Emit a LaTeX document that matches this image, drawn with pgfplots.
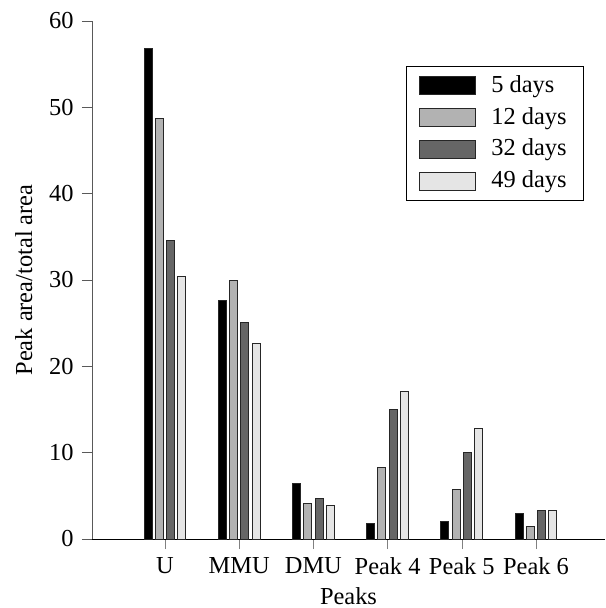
\documentclass[border=0pt]{standalone}
\usepackage{fontspec}
\setmainfont{Liberation Serif}
\usepackage{pgfplots}
\pgfplotsset{compat=1.18}
\definecolor{cA}{gray}{0.0}
\definecolor{cB}{gray}{0.70}
\definecolor{cC}{gray}{0.40}
\definecolor{cD}{gray}{0.90}
\begin{document}
\fontsize{12.2}{14.6}\selectfont
\begin{tikzpicture}
\begin{axis}[
  at={(0,0)}, anchor=south west,
  scale only axis, width=256.5pt, height=259pt,
  xmin=-0.984, xmax=5.93, ymin=0, ymax=60,
  axis x line*=bottom, axis y line*=left,
  y axis line style={black!65},
  ytick style={black!65},
  ybar=1.65pt, bar width=4pt,
  xtick={0,1,2,3,4,5},
  xticklabels={U,MMU,DMU,Peak 4,Peak 5,Peak 6},
  ytick={0,10,20,30,40,50,60},
  tick align=outside, major tick length=5pt,
  /pgf/number format/assume math mode=true,
  ticklabel style={font=\fontsize{12.2}{14.6}\selectfont},
  xlabel={Peaks}, ylabel={Peak area/total area},
  label style={font=\fontsize{12.2}{14.6}\selectfont},
  xlabel style={yshift=2pt},
  legend style={draw=black, at={(0.959,0.913)}, anchor=north east,
    font=\fontsize{12.2}{14.6}\selectfont, inner xsep=6.5pt, inner ysep=2.5pt,
    row sep=1.6pt, column sep=5.5pt, cells={anchor=west}},
  legend image code/.code={\draw[#1] (0pt,-4.5pt) rectangle (28pt,4.5pt);},
  every axis plot/.append style={draw=black!85, line width=0.5pt},
]
\addplot[fill=cA] coordinates {(0,56.8) (1,27.6) (2,6.45) (3,1.8) (4,2.0) (5,2.9)};
\addplot[fill=cB] coordinates {(0,48.7) (1,30.0) (2,4.1) (3,8.3) (4,5.7) (5,1.4)};
\addplot[fill=cC] coordinates {(0,34.6) (1,25.1) (2,4.7) (3,14.95) (4,10.0) (5,3.3)};
\addplot[fill=cD] coordinates {(0,30.4) (1,22.6) (2,3.9) (3,17.1) (4,12.75) (5,3.3)};
\legend{5 days,12 days,32 days,49 days}
\end{axis}
\pgfresetboundingbox
\path (-46pt,-34.5pt) rectangle (256.5pt,269.5pt);
\end{tikzpicture}
\end{document}
